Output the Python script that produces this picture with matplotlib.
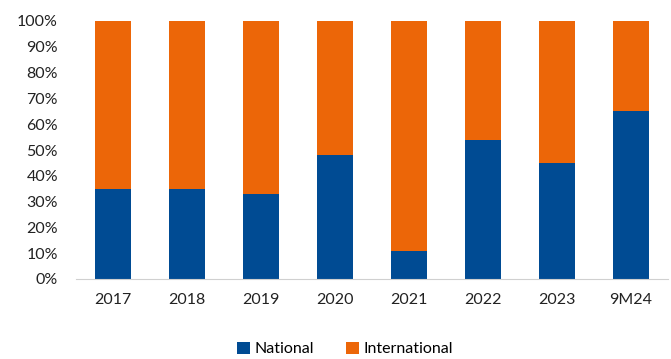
import matplotlib.pyplot as plt
import numpy as np

plt.rcParams['font.family'] = ['Lato', 'DejaVu Sans']

# data
years = ['2017', '2018', '2019', '2020', '2021', '2022', '2023', '9M24']
national = [35, 35, 33, 48, 11, 54, 45, 65]
international = [100 - v for v in national]

fig = plt.figure(figsize=(6.71, 3.59), dpi=100)
ax = fig.add_axes([76/671, 1 - 279/359, 592/671, 258/359])

x = np.arange(len(years))
ax.bar(x, national, width=0.49, color='#004B93', label='National')
ax.bar(x, international, width=0.49, bottom=national, color='#EC6608', label='International')

ax.set_xlim(-0.5, len(years) - 0.5)
ax.set_ylim(0, 100)
ax.set_yticks(range(0, 101, 10))
ax.set_yticklabels([f'{v}%' for v in range(0, 101, 10)])
ax.set_xticks(x)
ax.set_xticklabels(years)
ax.tick_params(axis='both', length=0, labelsize=11.5, colors='#222222')
ax.tick_params(axis='y', pad=13)
ax.tick_params(axis='x', pad=10)
for s in ['top', 'right', 'left']:
    ax.spines[s].set_visible(False)
ax.spines['bottom'].set_color('#D0D0D0')

fig.legend(loc='center', bbox_to_anchor=(345/671, 1 - 349/359), ncol=2, frameon=False,
           fontsize=11.5, handlelength=0.8, handleheight=0.8, columnspacing=2.0, handletextpad=0.3)

fig.savefig('out.png', dpi=100)
